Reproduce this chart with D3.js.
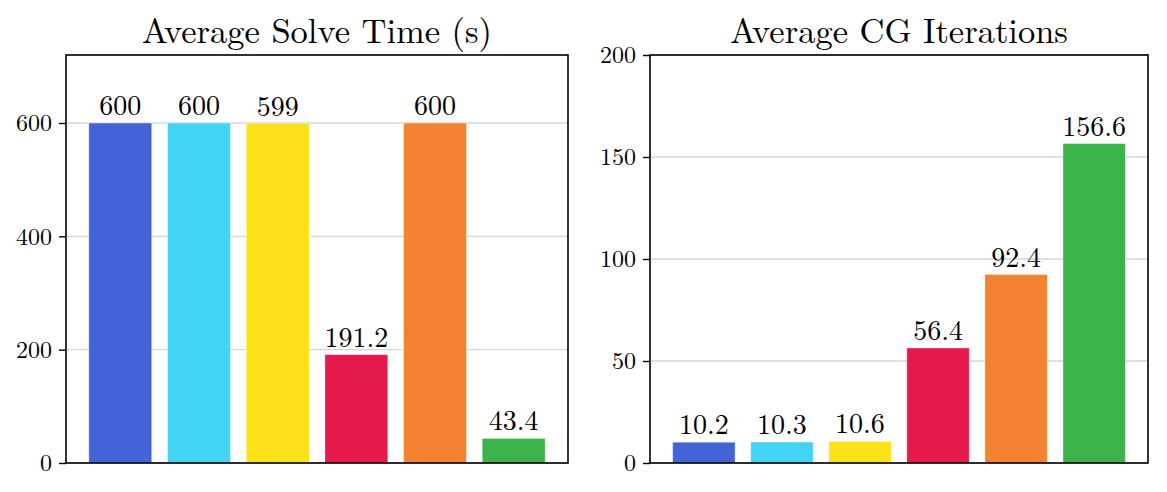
<!DOCTYPE html>
<html>
<head>
<meta charset="utf-8">
<script src="https://cdn.jsdelivr.net/npm/d3@7"></script>
<style>
  body { margin: 0; background: #fff; }
</style>
</head>
<body>
<svg id="chart" width="1167" height="492"></svg>
<script>
const FONT = "'Latin Modern Roman', 'Liberation Serif', serif";

// six methods, same colour order in both panels
const methods = ["m1", "m2", "m3", "m4", "m5", "m6"];
const colors = ["#4363d8", "#42d4f4", "#ffe119", "#e6194b", "#f58231", "#3cb44b"];

const solveTime = [600, 600, 599, 191.2, 600, 43.4];
const solveLabels = ["600", "600", "599", "191.2", "600", "43.4"];
const solveTicks = [0, 200, 400, 600];

const cgIters = [10.2, 10.3, 10.6, 56.4, 92.4, 156.6];
const cgLabels = ["10.2", "10.3", "10.6", "56.4", "92.4", "156.6"];
const cgTicks = [0, 50, 100, 150, 200];

const svg = d3.select("#chart");

function panel(opts) {
  const { left, right, top, bottom, title, values, labels, ticks, yMax } = opts;
  const g = svg.append("g");

  // matplotlib-style: bars at integer positions, width 0.8, 5% margins
  const x = d3.scaleLinear().domain([-0.69, methods.length - 1 + 0.69]).range([left, right]);
  const y = d3.scaleLinear().domain([0, yMax]).range([bottom, top]);

  // grid behind bars
  g.append("g").selectAll("line").data(ticks).join("line")
    .attr("x1", left).attr("x2", right)
    .attr("y1", (d) => y(d)).attr("y2", (d) => y(d))
    .attr("stroke", "#d6d6d6").attr("stroke-width", 1.4);

  g.append("g").selectAll("rect").data(values).join("rect")
    .attr("x", (d, i) => x(i - 0.4))
    .attr("width", (d, i) => x(i + 0.4) - x(i - 0.4))
    .attr("y", (d) => y(d))
    .attr("height", (d) => y(0) - y(d))
    .attr("fill", (d, i) => colors[i])
    .attr("stroke", "#fff").attr("stroke-opacity", 0.5).attr("stroke-width", 0.8);

  g.append("g").selectAll("text").data(values).join("text")
    .attr("x", (d, i) => x(i))
    .attr("y", (d) => y(d) - 8)
    .attr("text-anchor", "middle")
    .attr("font-family", FONT)
    .attr("font-size", 28)
    .attr("fill", "#000")
    .text((d, i) => labels[i]);

  // y axis
  const axis = d3.axisLeft(y).tickValues(ticks).tickSize(7).tickPadding(7).tickFormat(d3.format("d"));
  const ax = g.append("g").attr("transform", `translate(${left},0)`).call(axis)
    .attr("font-family", FONT).attr("font-size", 24);
  ax.select(".domain").remove();
  ax.selectAll(".tick line").attr("stroke", "#000").attr("stroke-width", 1.4);
  ax.selectAll(".tick text")
    .attr("font-family", FONT).attr("font-size", 24).attr("fill", "#000")
    .attr("dy", "0.33em");

  // frame
  g.append("rect")
    .attr("x", left).attr("y", top)
    .attr("width", right - left).attr("height", bottom - top)
    .attr("fill", "none").attr("stroke", "#000").attr("stroke-width", 1.6);

  g.append("text")
    .attr("x", (left + right) / 2).attr("y", 43)
    .attr("text-anchor", "middle")
    .attr("font-family", FONT)
    .attr("font-size", 34.5)
    .attr("fill", "#000")
    .text(title);
}

panel({ left: 66, right: 568, top: 55, bottom: 463, title: "Average Solve Time (s)",
  values: solveTime, labels: solveLabels, ticks: solveTicks, yMax: 720 });
panel({ left: 650, right: 1148, top: 55, bottom: 463, title: "Average CG Iterations",
  values: cgIters, labels: cgLabels, ticks: cgTicks, yMax: 200 });
</script>
</body>
</html>
